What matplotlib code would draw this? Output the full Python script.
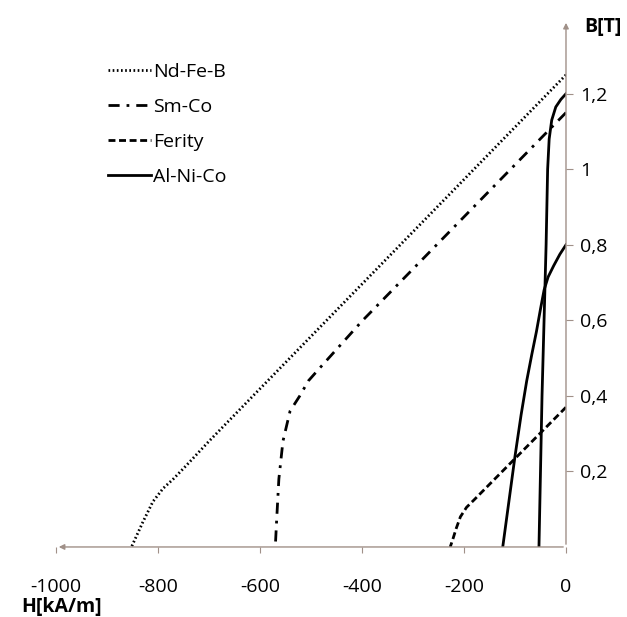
import numpy as np
import matplotlib
matplotlib.use("Agg")
import matplotlib.pyplot as plt

plt.rcParams['font.family'] = ['Open Sans', 'DejaVu Sans']

# krzywe odmagnesowania (H w kA/m, B w T)
ndfeb_H = [0, -200, -400, -600, -700, -745, -770, -790, -810, -830, -852]
ndfeb_B = [1.25, 0.973, 0.696, 0.419, 0.28, 0.215, 0.18, 0.155, 0.12, 0.065, 0.0]

smco_H = [0, -200, -400, -486, -505, -522, -541, -555, -563, -567, -570]
smco_B = [1.15, 0.874, 0.598, 0.469, 0.44, 0.40, 0.36, 0.28, 0.18, 0.08, 0.0]

ferr_H = [0, -100, -180, -195, -207, -215, -222, -227]
ferr_B = [0.37, 0.234, 0.125, 0.105, 0.08, 0.05, 0.02, 0.0]

alnico1_H = [-53, -50, -47, -43, -39, -36, -33, -28, -20, -10, 0]
alnico1_B = [0, 0.2, 0.4, 0.6, 0.8, 1.0, 1.08, 1.13, 1.165, 1.185, 1.2]

alnico2_H = [-124, -112, -100, -88, -77, -67, -58, -50, -43, -35, -24, -12, 0]
alnico2_B = [0, 0.12, 0.24, 0.35, 0.44, 0.51, 0.57, 0.63, 0.68, 0.715, 0.745, 0.775, 0.8]

xticks = [-1000, -800, -600, -400, -200, 0]
yticks = [0.2, 0.4, 0.6, 0.8, 1.0, 1.2]
ylabels = ["0,2", "0,4", "0,6", "0,8", "1", "1,2"]

axcol = '#a09088'

fig = plt.figure(figsize=(6.27, 6.17), dpi=100)
ax = fig.add_axes([0.0893, 0.1135, 0.8134, 0.8509])

ax.plot(ndfeb_H, ndfeb_B, color='black', lw=2, linestyle=(0, (0.6, 0.9)), label='Nd-Fe-B')
ax.plot(smco_H, smco_B, color='black', lw=2, linestyle=(0, (4, 2.5, 1, 2.5)), label='Sm-Co')
ax.plot(ferr_H, ferr_B, color='black', lw=2, linestyle=(0, (2.5, 1.3)), label='Ferity')
ax.plot(alnico1_H, alnico1_B, color='black', lw=2, label='Al-Ni-Co')
ax.plot(alnico2_H, alnico2_B, color='black', lw=2)

ax.set_xlim(-1000, 0)
ax.set_ylim(0, 1.39)

for s in ax.spines.values():
    s.set_visible(False)

# osie ze strzalkami
ax.annotate('', xy=(-1000, 0), xytext=(0, 0),
            arrowprops=dict(arrowstyle='-|>', color=axcol, lw=1, mutation_scale=8),
            annotation_clip=False)
ax.annotate('', xy=(0, 1.395), xytext=(0, 0),
            arrowprops=dict(arrowstyle='-|>', color=axcol, lw=1, mutation_scale=8),
            annotation_clip=False)

ax.yaxis.tick_right()
ax.set_yticks(yticks)
ax.set_yticklabels(ylabels)
ax.set_xticks(xticks)
ax.set_xticklabels([str(v) for v in xticks])
ax.tick_params(axis='y', direction='out', length=5, color=axcol, pad=5, labelsize=14)
ax.tick_params(axis='x', direction='out', length=4, color=axcol, pad=18, labelsize=14)

ax.text(1.0725, 0.99, 'B[T]', transform=ax.transAxes, fontsize=14, fontweight='bold',
        ha='center', va='center')
fig.text(0.034, 0.0162, 'H[kA/m]', fontsize=14, fontweight='bold', ha='left', va='center')

ax.legend(loc='upper left', bbox_to_anchor=(0.068, 0.956), frameon=False, fontsize=14,
          handlelength=2.2, handletextpad=0.1, labelspacing=0.88)

fig.savefig('out.png', dpi=100)
